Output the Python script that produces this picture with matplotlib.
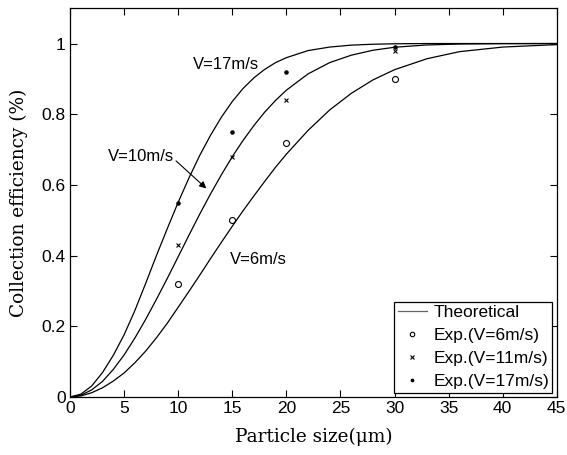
import numpy as np
import matplotlib
matplotlib.use('Agg')
import matplotlib.pyplot as plt
from matplotlib.ticker import FuncFormatter, MultipleLocator

# theoretical curves
size_theory = [0, 1, 2, 3, 4, 5, 6, 7, 8, 9, 10, 11, 12, 13, 14, 15, 16, 17, 18, 19, 20,
               22, 24, 26, 28, 30, 33, 36, 40, 45]
eff_v17 = [0, 0.008, 0.031, 0.069, 0.118, 0.176, 0.245, 0.322, 0.401, 0.477, 0.551, 0.620,
           0.684, 0.741, 0.792, 0.836, 0.873, 0.903, 0.927, 0.946, 0.960,
           0.980, 0.990, 0.9955, 0.998, 0.9993, 1.0, 1.0, 1.0, 1.0]
eff_v10 = [0, 0.005, 0.020, 0.044, 0.078, 0.119, 0.167, 0.220, 0.277, 0.336, 0.397, 0.458,
           0.518, 0.575, 0.629, 0.680, 0.726, 0.768, 0.806, 0.839, 0.868,
           0.914, 0.946, 0.967, 0.981, 0.9895, 0.996, 0.9986, 0.9997, 1.0]
eff_v6 = [0, 0.003, 0.012, 0.026, 0.045, 0.068, 0.097, 0.130, 0.168, 0.209, 0.254, 0.299,
          0.345, 0.392, 0.438, 0.483, 0.527, 0.569, 0.610, 0.650, 0.687,
          0.754, 0.812, 0.859, 0.897, 0.926, 0.957, 0.977, 0.990, 0.997]

# experimental points
size_exp = [10, 15, 20, 30]
exp_v6 = [0.32, 0.50, 0.72, 0.90]
exp_v11 = [0.43, 0.68, 0.84, 0.978]
exp_v17 = [0.55, 0.75, 0.92, 0.99]

fig = plt.figure(figsize=(5.67, 4.55), dpi=100)
ax = fig.add_axes([0.1235, 0.1275, 0.8585, 0.8545])

ax.plot(size_theory, eff_v17, color='black', lw=0.9)
ax.plot(size_theory, eff_v10, color='black', lw=0.9)
ax.plot(size_theory, eff_v6, color='black', lw=0.9, label='Theoretical')

ax.plot(size_exp, exp_v6, 'o', mfc='none', mec='black', ms=4.3, mew=0.8, label='Exp.(V=6m/s)')
ax.plot(size_exp, exp_v11, 'x', color='black', ms=3, mew=0.8, label='Exp.(V=11m/s)')
ax.plot(size_exp, exp_v17, '.', color='black', ms=4.5, label='Exp.(V=17m/s)')

tfont = {'family': 'Liberation Sans', 'size': 12}
ax.text(11.4, 0.94, 'V=17m/s', va='center', ha='left', fontdict=tfont)
ax.text(14.8, 0.389, 'V=6m/s', va='center', ha='left', fontdict=tfont)
ax.text(3.5, 0.68, 'V=10m/s', va='center', ha='left', fontdict=tfont)
ax.annotate('', xy=(12.6, 0.59), xytext=(9.8, 0.668),
            arrowprops=dict(arrowstyle='-|>', color='black', lw=0.8, mutation_scale=10,
                            shrinkA=0, shrinkB=0))

ax.set_xlim(0, 45)
ax.set_ylim(0, 1.1)
ax.xaxis.set_major_locator(MultipleLocator(5))
ax.yaxis.set_major_locator(MultipleLocator(0.2))
ax.yaxis.set_major_formatter(FuncFormatter(lambda v, p: '%g' % round(v, 2)))
ax.tick_params(direction='in', top=True, right=True, length=5, width=0.8,
               labelsize=12.5, pad=3)
for lab in ax.get_xticklabels() + ax.get_yticklabels():
    lab.set_fontfamily('Liberation Sans')
for s in ax.spines.values():
    s.set_linewidth(0.9)

ax.set_xlabel('Particle size(μm)', fontfamily='DejaVu Serif', fontsize=13.3, labelpad=8)
ax.set_ylabel('Collection efficiency (%)', fontfamily='DejaVu Serif', fontsize=13.3, labelpad=10)

leg = ax.legend(loc='lower right', prop={'family': 'Liberation Sans', 'size': 12.5},
                fancybox=False, edgecolor='black', framealpha=1, borderpad=0.2,
                labelspacing=0.45, handlelength=1.7, handletextpad=0.35,
                borderaxespad=0.25, markerscale=0.75)
leg.get_frame().set_linewidth(0.9)
leg.get_lines()[0].set_color('0.4')

plt.savefig('out.png', dpi=100)
